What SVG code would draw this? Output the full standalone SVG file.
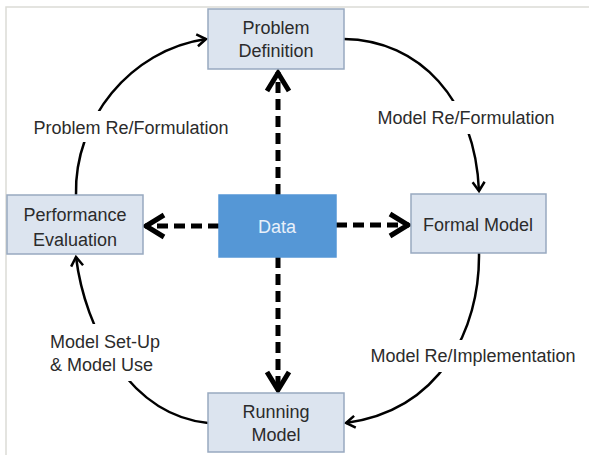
<svg xmlns="http://www.w3.org/2000/svg" width="589" height="455" viewBox="0 0 589 455">
<defs>
<style>
.node rect{fill:#dce4ef;stroke:#98a9c0;stroke-width:1.5}
.node text,.lbl{font-family:"Liberation Sans",Arial,sans-serif;font-size:18px;fill:#2b2b2b}
.node text{text-anchor:middle}
#data rect{fill:#5597d6;stroke:#5597d6}
#data text{fill:#e8f0fa}
.dash{fill:none;stroke:#000;stroke-width:5;stroke-dasharray:11 6;marker-end:url(#chev)}
.arc{fill:none;stroke:#000;stroke-width:2.5;marker-end:url(#ah)}
.halo{fill:#fff}
</style>
<marker id="chev" markerUnits="userSpaceOnUse" markerWidth="30" markerHeight="30" viewBox="-26 -15 30 30" refX="0" refY="0" orient="auto">
<path d="M-19,-11 L-1,0 L-19,11" fill="none" stroke="#000" stroke-width="5"/>
</marker>
<marker id="ah" markerUnits="userSpaceOnUse" markerWidth="16" markerHeight="16" viewBox="-12 -8 16 16" refX="0" refY="0" orient="auto">
<path d="M-9,-6 L0,0 L-9,6" fill="none" stroke="#000" stroke-width="2.5"/>
</marker>
</defs>
<rect width="589" height="455" fill="#fff"/>
<polyline points="6,455 6,7 589,7" fill="none" stroke="#dcdcd6" stroke-width="1.5"/>
<g id="connectors">
<path class="dash" d="M278,195 L278,72"/>
<path class="dash" d="M278,257 L278,391"/>
<path class="dash" d="M219,226 L145,226"/>
<path class="dash" d="M336,225 L409,225"/>
<path class="arc" d="M76,195 C74,120 130,50 206,39"/>
<path class="arc" d="M344,39 C420,40 475,100 479,191"/>
<path class="arc" d="M479,253 C480,330 440,410 346,423"/>
<path class="arc" d="M208,423 C130,415 85,330 76,257"/>
<rect class="halo" x="28" y="111" width="206" height="31"/>
<rect class="halo" x="371" y="101" width="190" height="33"/>
<rect class="halo" x="364" y="340" width="218" height="32"/>
<rect class="halo" x="46" y="324" width="120" height="57"/>
<text class="lbl" x="131" y="134" text-anchor="middle">Problem Re/Formulation</text>
<text class="lbl" x="466" y="124" text-anchor="middle">Model Re/Formulation</text>
<text class="lbl" x="473" y="362" text-anchor="middle">Model Re/Implementation</text>
<text class="lbl" x="50" y="348">Model Set-Up</text>
<text class="lbl" x="50" y="371">&amp; Model Use</text>
</g>
<g id="problem" class="node">
<rect x="208" y="9" width="136" height="60"/>
<text x="276" y="34">Problem</text>
<text x="276" y="57">Definition</text>
</g>
<g id="performance" class="node">
<rect x="7" y="195" width="136" height="59"/>
<text x="75" y="221">Performance</text>
<text x="75" y="246">Evaluation</text>
</g>
<g id="data" class="node">
<rect x="219" y="195" width="117" height="62"/>
<text x="277" y="233">Data</text>
</g>
<g id="formal" class="node">
<rect x="411" y="194" width="135" height="59"/>
<text x="478" y="231">Formal Model</text>
</g>
<g id="running" class="node">
<rect x="208" y="393" width="136" height="59"/>
<text x="276" y="418">Running</text>
<text x="276" y="441">Model</text>
</g>
</svg>
